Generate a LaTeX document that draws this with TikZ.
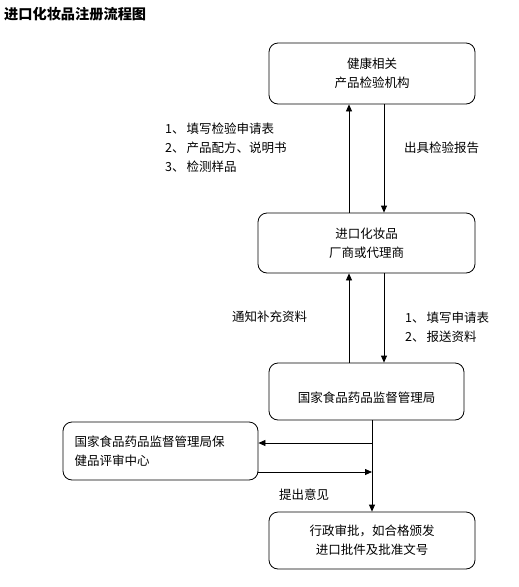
\documentclass[tikz,border=0pt]{standalone}
\usepackage{fontspec}
\setmainfont{Noto Sans CJK SC}
\usetikzlibrary{arrows.meta}
\tikzset{
  box/.style={draw, rounded corners=9pt, line width=0.8pt, align=center},
  arr/.style={-{Triangle[length=7pt,width=6pt]}, line width=0.8pt},
  lbl/.style={inner sep=0pt, align=left, anchor=west}
}
\begin{document}
\begin{tikzpicture}[x=1pt,y=-1pt,font=\fontsize{12.5}{19}\selectfont]
\useasboundingbox (0,0) rectangle (519,587);
\node [anchor=west, inner sep=0pt, font=\fontsize{14.2}{16}\selectfont\bfseries] (title) at (4,14) {进口化妆品注册流程图};
% boxes
\node [box, minimum width=206pt, minimum height=61pt] (lab) at (372,73.5) {健康相关\\产品检验机构};
\node [box, minimum width=217pt, minimum height=60pt] (firm) at (366.5,243) {进口化妆品\\厂商或代理商};
\node [box, minimum width=195pt, minimum height=57pt, text height=22pt, text depth=0pt] (sfda) at (366.5,391.5) {国家食品药品监督管理局};
\node [box, minimum width=195pt, minimum height=58pt, text width=172pt, align=left] (cent) at (160.5,451) {国家食品药品监督管理局保\\健品评审中心};
\node [box, minimum width=206pt, minimum height=57pt] (appr) at (372,540.5) {行政审批，如合格颁发\\进口批件及批准文号};
% columns of the arrows
\coordinate (up) at (349,0);
\coordinate (dn) at (384,0);
\coordinate (j1) at (372,443);
\coordinate (j2) at (372,472);
\draw [arr] (firm.north -| up) -- (lab.south -| up);
\draw [arr] (lab.south -| dn) -- (firm.north -| dn);
\draw [arr] (sfda.north -| up) -- (firm.south -| up);
\draw [arr] (firm.south -| dn) -- (sfda.north -| dn);
\draw [arr] (sfda.south -| j1) -- (appr.north -| j1);
\draw [arr] (j1) -- (j1 -| cent.east);
\draw [arr] (j2 -| cent.east) -- (j2);
% labels
\node [lbl] (send) at (165,147.5) {1、\hspace{2pt}填写检验申请表\\2、\hspace{2pt}产品配方、说明书\\3、\hspace{2pt}检测样品};
\node [lbl] (rep) at (404,148) {出具检验报告};
\node [lbl] (note) at (232,317) {通知补充资料};
\node [lbl] (apply) at (405,327.5) {1、\hspace{2pt}填写申请表\\2、\hspace{2pt}报送资料};
\node [lbl] (opin) at (279,495) {提出意见};
\end{tikzpicture}
\end{document}
